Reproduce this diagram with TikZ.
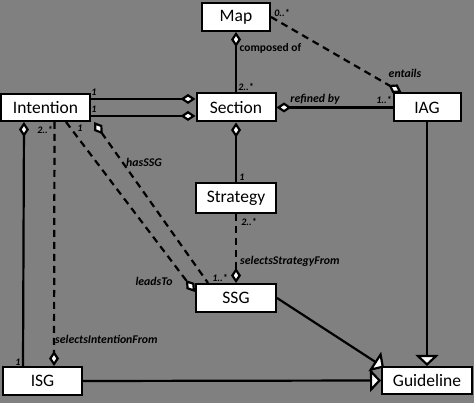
\documentclass[tikz,border=0pt]{standalone}
\usepackage{fontspec}
\setmainfont{Carlito}
\usetikzlibrary{arrows.meta}
\definecolor{bggray}{RGB}{128,128,128}
\pgfdeclarelayer{background}
\pgfdeclarelayer{edges}
\pgfsetlayers{background,edges,main}
\begin{document}
\begin{tikzpicture}[x=1pt,y=-1pt,
  box/.style={draw=black, fill=white, line width=2pt, inner sep=0pt, font=\fontsize{17.5}{20}\selectfont},
  conn/.style={line width=2.2pt, draw=black},
  dsh/.style={conn, dash pattern=on 7pt off 5pt},
  dstart/.style={{Diamond[length=15pt,width=10pt,fill=white]}-},
  dend/.style={-{Diamond[length=15pt,width=10pt,fill=white]}},
  gen/.style={-{Triangle[length=11pt,width=23pt,fill=white]}},
  lbl/.style={font=\fontsize{11.8}{13}\selectfont\bfseries\itshape, inner sep=0pt},
  plainlbl/.style={font=\fontsize{11.5}{13}\selectfont\bfseries, inner sep=0pt},
  mult/.style={font=\fontsize{10}{12}\selectfont\bfseries\itshape, inner sep=0pt}]
\begin{pgfonlayer}{background}
\fill[bggray] (0,0) rectangle (474,403);
\end{pgfonlayer}
\useasboundingbox (0,0) rectangle (474,403);

% classes
\node[box, minimum width=68pt, minimum height=28pt] (map) at (236,17) {Map};
\node[box, minimum width=89pt, minimum height=27pt] (int) at (45.5,107.5) {Intention};
\node[box, minimum width=79pt, minimum height=28pt] (sec) at (236,107.5) {Section};
\node[box, minimum width=67pt, minimum height=28pt] (iag) at (427,107.5) {IAG};
\node[box, minimum width=80pt, minimum height=30pt] (str) at (236,198) {Strategy};
\node[box, minimum width=80pt, minimum height=28pt] (ssg) at (236,298) {SSG};
\node[box, minimum width=79pt, minimum height=28pt] (isg) at (42.5,381) {ISG};
\node[box, minimum width=90pt, minimum height=27pt] (gl) at (427,380.5) {Guideline};

\begin{pgfonlayer}{edges}
\draw[conn, dstart] (map.south) -- (sec.north);
\draw[dsh, dend] (map.east) -- ([xshift=9pt]iag.north west);
\draw[conn, dend] ([yshift=8.5pt]int.east) -- ([yshift=8.5pt]sec.west);
\draw[conn, dend] ([yshift=-8.5pt]int.east) -- ([yshift=-8.5pt]sec.west);
\draw[conn, dstart] (sec.east) -- (iag.west);
\draw[conn, dstart] (sec.south) -- (str.north);
\draw[dsh, dend] (str.south) -- (ssg.north);
\draw[dsh, dstart] ([xshift=3pt]int.south east) -- ([xshift=-28pt]ssg.north);
\draw[dsh, dend] ([xshift=20.5pt]int.south) -- ([yshift=6pt]ssg.west);
\draw[dsh, dend] ([xshift=9pt]int.south) -- ([xshift=11.5pt]isg.north);
\draw[conn, dstart] ([xshift=-21.5pt]int.south) -- ([xshift=-19.5pt]isg.north);
\draw[conn, gen] (isg.east) -- (gl.west);
\draw[conn, gen] (ssg.east) -- ([xshift=3pt,yshift=-1.5pt]gl.north west);
\draw[conn, gen] (iag.south) -- (gl.north);
\end{pgfonlayer}

% labels
\node[plainlbl] (l1) at (270.5,48) {composed of};
\node[mult] (m1) at (246,87) {2..*};
\node[mult] (m2) at (282,13) {0..*};
\node[lbl] (l2) at (405,73) {entails};
\node[lbl] (l3) at (315,99) {refined by};
\node[mult] (m3) at (384,100) {1..*};
\node[mult] (m4) at (94,92) {1};
\node[mult] (m5) at (94,109) {1};
\node[mult] (m6) at (242,177) {1};
\node[mult] (m7) at (249,222) {2..*};
\node[lbl, anchor=west] (l4) at (240,261) {selectsStrategyFrom};
\node[mult] (m8) at (220,278) {1..*};
\node[lbl] (l5) at (144,162) {hasSSG};
\node[lbl] (l6) at (154,281) {leadsTo};
\node[mult] (m9) at (80,128) {1};
\node[mult] (m10) at (45,130) {2..*};
\node[lbl, anchor=west] (l7) at (55,339) {selectsIntentionFrom};
\node[mult] (m11) at (18,362) {1};
\end{tikzpicture}
\end{document}
